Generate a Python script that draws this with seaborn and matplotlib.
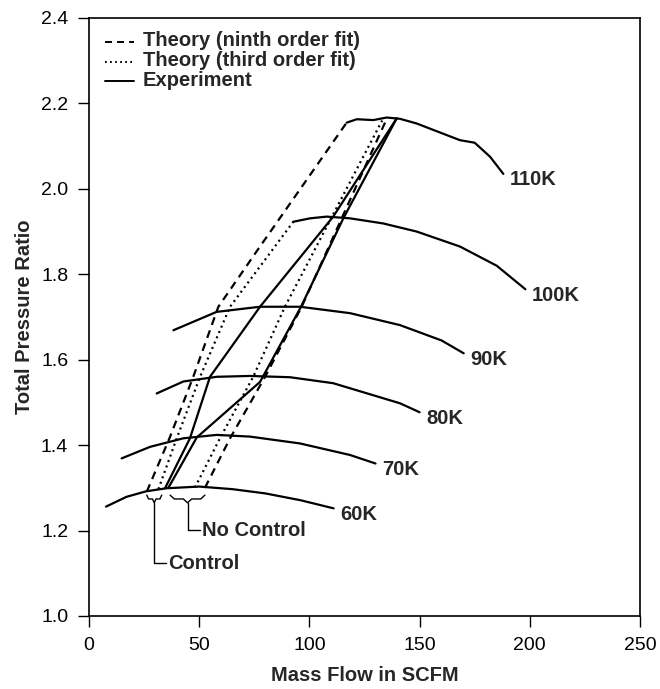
import matplotlib
matplotlib.use("Agg")
import matplotlib.pyplot as plt
import seaborn as sns
import pandas as pd
from matplotlib.lines import Line2D

# ---- data ----
speed_labels = ["60K", "70K", "80K", "90K", "100K", "110K"]
speed_60k_x = [7.7, 17, 26, 35, 50, 65, 80, 96, 111]
speed_60k_y = [1.256, 1.279, 1.292, 1.299, 1.303, 1.297, 1.287, 1.271, 1.252]
speed_70k_x = [14.8, 27.7, 42.8, 57.9, 73, 95.7, 118.4, 130]
speed_70k_y = [1.369, 1.396, 1.416, 1.424, 1.420, 1.404, 1.377, 1.357]
speed_80k_x = [30.7, 42.8, 57.9, 73, 91.2, 110.8, 141.1, 150]
speed_80k_y = [1.521, 1.549, 1.560, 1.562, 1.559, 1.545, 1.498, 1.477]
speed_90k_x = [38.3, 57.9, 77.6, 95.7, 118.4, 141.1, 160, 170]
speed_90k_y = [1.669, 1.712, 1.724, 1.724, 1.709, 1.681, 1.645, 1.615]
speed_100k_x = [92.7, 100.3, 107.8, 118.4, 133.5, 148.7, 168.3, 185, 198]
speed_100k_y = [1.923, 1.931, 1.935, 1.931, 1.919, 1.900, 1.865, 1.820, 1.765]
speed_110k_x = [116.9, 121.5, 129, 135.1, 141.1, 148.7, 156.2, 168.3, 175, 182, 188]
speed_110k_y = [2.155, 2.163, 2.161, 2.167, 2.164, 2.153, 2.138, 2.114, 2.108, 2.075, 2.035]

ninth_ctrl_x = [26.2, 36.5, 47.3, 58.7, 76.5, 116.9]
ninth_ctrl_y = [1.291, 1.416, 1.560, 1.724, 1.857, 2.155]
ninth_noctrl_x = [52.6, 64, 79.9, 96.5, 134.3]
ninth_noctrl_y = [1.300, 1.416, 1.560, 1.724, 2.155]
third_ctrl_x = [31.5, 39.8, 50.4, 64, 92.7]
third_ctrl_y = [1.297, 1.416, 1.560, 1.724, 1.923]
third_noctrl_x = [48.1, 59.4, 74.5, 88.9, 133]
third_noctrl_y = [1.301, 1.416, 1.560, 1.724, 2.160]
exp_ctrl_x = [34.5, 45.8, 54.9, 77.6, 110.8, 139.6]
exp_ctrl_y = [1.299, 1.416, 1.560, 1.724, 1.935, 2.165]
exp_noctrl_x = [36, 48.9, 77.6, 96, 115.4, 139.6]
exp_noctrl_y = [1.300, 1.418, 1.548, 1.722, 1.931, 2.165]

legend_labels = ["Theory (ninth order fit)", "Theory (third order fit)", "Experiment"]
x_ticks = [0, 50, 100, 150, 200, 250]
y_ticks = [1.0, 1.2, 1.4, 1.6, 1.8, 2.0, 2.2, 2.4]

sns.set_style("ticks")
plt.rcParams["font.family"] = ["Liberation Sans", "DejaVu Sans"]

W, H = 660, 689
fig = plt.figure(figsize=(W / 100, H / 100), dpi=100)
ax = fig.add_axes([89 / W, 73 / H, 551 / W, 598 / H])

DASH = (0, (3.6, 2.6))
DOT = (0, (0.9, 1.7))

speeds = [
    (speed_60k_x, speed_60k_y), (speed_70k_x, speed_70k_y), (speed_80k_x, speed_80k_y),
    (speed_90k_x, speed_90k_y), (speed_100k_x, speed_100k_y), (speed_110k_x, speed_110k_y),
]
for lab, (xs, ys) in zip(speed_labels, speeds):
    df = pd.DataFrame({"x": xs, "y": ys})
    sns.lineplot(data=df, x="x", y="y", sort=False, color="black", lw=1.6, ax=ax)
    ax.text(xs[-1] + 3.0, ys[-1] - 0.014, lab, fontsize=14.5, fontweight="bold",
            ha="left", va="center")

styles = [
    (ninth_ctrl_x, ninth_ctrl_y, DASH),
    (ninth_noctrl_x, ninth_noctrl_y, DASH),
    (third_ctrl_x, third_ctrl_y, DOT),
    (third_noctrl_x, third_noctrl_y, DOT),
    (exp_ctrl_x, exp_ctrl_y, "-"),
    (exp_noctrl_x, exp_noctrl_y, "-"),
]
for xs, ys, ls in styles:
    df = pd.DataFrame({"x": xs, "y": ys})
    sns.lineplot(data=df, x="x", y="y", sort=False, color="black", lw=1.6,
                 linestyle=ls, ax=ax)

# braces
def brace(x0, x1, ytop, depth):
    xm = (x0 + x1) / 2
    w = (x1 - x0)
    xs = [x0, x0 + 0.12 * w, xm - 0.12 * w, xm, xm + 0.12 * w, x1 - 0.12 * w, x1]
    ys = [ytop, ytop - depth * 0.5, ytop - depth * 0.5, ytop - depth, ytop - depth * 0.5,
          ytop - depth * 0.5, ytop]
    ax.plot(xs, ys, color="black", lw=1.0)
    return xm, ytop - depth

bx, by = brace(ninth_ctrl_x[0], third_ctrl_x[0] + 1.5, 1.283, 0.018)
ax.plot([bx, bx, bx + 5.5], [by, 1.124, 1.124], color="black", lw=1.0)
ax.text(bx + 6.5, 1.124, "Control", fontsize=14.5, fontweight="bold", ha="left", va="center")

bx, by = brace(exp_noctrl_x[0] + 0.8, ninth_noctrl_x[0], 1.283, 0.018)
ax.plot([bx, bx, bx + 5.5], [by, 1.201, 1.201], color="black", lw=1.0)
ax.text(bx + 6.5, 1.201, "No Control", fontsize=14.5, fontweight="bold", ha="left", va="center")

# legend (drawn manually for tight spacing)
row_y = [41, 61, 80]
for lab, ls, ry in zip(legend_labels, [DASH, DOT, "-"], row_y):
    fig.add_artist(Line2D([105 / W, 134 / W], [1 - (ry + 1) / H] * 2, transform=fig.transFigure,
                          color="black", lw=1.4, linestyle=ls))
    fig.text(143 / W, 1 - ry / H, lab, fontsize=14.5, fontweight="bold",
             ha="left", va="center")

ax.set_xlim(0, 250)
ax.set_ylim(1.0, 2.4)
ax.set_xticks(x_ticks)
ax.set_yticks(y_ticks)
ax.set_xticklabels([str(t) for t in x_ticks])
ax.set_yticklabels([f"{t:.1f}" for t in y_ticks])
ax.tick_params(direction="out", length=8, width=1.0, labelsize=14, colors="black", pad=7)
for s in ax.spines.values():
    s.set_visible(True)
    s.set_linewidth(1.2)
    s.set_color("black")
ax.set_xlabel("Mass Flow in SCFM", fontsize=14.5, fontweight="bold", labelpad=9)
ax.set_ylabel("Total Pressure Ratio", fontsize=14.5, fontweight="bold", labelpad=5)

fig.savefig("out.png", dpi=100)
